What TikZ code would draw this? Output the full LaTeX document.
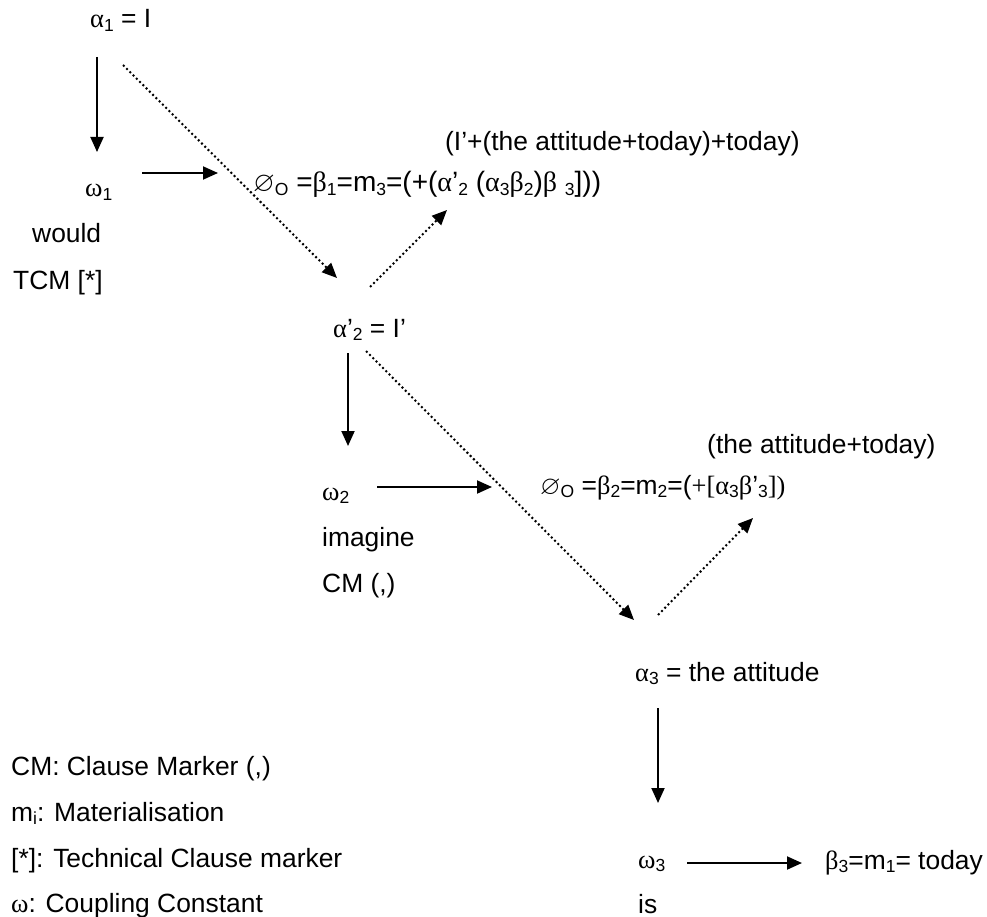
\documentclass[tikz,border=0pt]{standalone}
\usepackage{amssymb}
\usepackage{fontspec}
\setmainfont{Liberation Sans}
\newfontfamily\symbfont{Liberation Serif}
\usetikzlibrary{arrows.meta}

\newcommand{\gr}[1]{{\symbfont #1}}
\newcommand{\lo}[1]{\raisebox{-3.5pt}{\fontsize{17.5}{17.5}\selectfont #1}}

\begin{document}
\begin{tikzpicture}
  [x=1pt,y=-1pt,
   every node/.style={anchor=base west,inner sep=0pt,font=\fontsize{26.4}{31}\selectfont},
   solidarrow/.style={line width=1.9pt,-{Triangle[length=15pt,width=13pt]}},
   dotarrow/.style={line width=2pt,dash pattern=on 2pt off 2.6pt,-{Triangle[length=15pt,width=13pt]}}]

  \useasboundingbox (0,0) rectangle (987,917);

  % first level
  \node (a1) at (90,28) {\gr{α}\lo{1} = I};
  \node (w1) at (85,197) {\gr{ω}\lo{1}};
  \node (would) at (32,243) {would};
  \node (tcm) at (13,289) {TCM [*]};
  \node[font=\fontsize{28}{33}\selectfont] (f1) at (253,192) {$\varnothing$\lo{O} =\gr{β}\lo{1}=m\lo{3}=(+(\gr{α}’\lo{2} (\gr{α}\lo{3}\gr{β}\lo{2})\gr{β} \lo{3}]))};
  \node (t1) at (445,151) {(I’+(the attitude+today)+today)};

  % second level
  \node (a2) at (333,337) {\gr{α}’\lo{2} = I’};
  \node (w2) at (322,500) {\gr{ω}\lo{2}};
  \node (imagine) at (322,546) {imagine};
  \node (cm) at (322,592) {CM (,)};
  \node (f2) at (540,494) {$\varnothing$\lo{O} =\gr{β}\lo{2}=m\lo{2}=(\gr{+[α}\lo{3}\gr{β}’\lo{3}\gr{])}};
  \node (t2) at (707,453) {(the attitude+today)};

  % third level
  \node (a3) at (635,681) {\gr{α}\lo{3} = the attitude};
  \node (w3) at (638,868) {\gr{ω}\lo{3}};
  \node (is) at (638,913) {is};
  \node (f3) at (825,869) {\gr{β}\lo{3}=m\lo{1}= today};

  % legend
  \node (l1) at (11,775) {CM: Clause Marker (,)};
  \node (l2) at (11,821) {m\lo{i}: Materialisation};
  \node (l3) at (11,867) {[*]: Technical Clause marker};
  \node (l4) at (11,912) {\gr{ω}: Coupling Constant};

  % arrow ends
  \coordinate (v1s) at (97,57);   \coordinate (v1e) at (97,152);
  \coordinate (h1s) at (142,173); \coordinate (h1e) at (218,173);
  \coordinate (d1s) at (123,65);  \coordinate (d1e) at (337,278);
  \coordinate (d2s) at (370,287); \coordinate (d2e) at (447,210);
  \coordinate (v2s) at (348,353); \coordinate (v2e) at (348,446);
  \coordinate (h2s) at (377,487); \coordinate (h2e) at (492,487);
  \coordinate (d3s) at (366,351); \coordinate (d3e) at (634,620);
  \coordinate (d4s) at (658,615); \coordinate (d4e) at (753,518);
  \coordinate (v3s) at (658,708); \coordinate (v3e) at (658,803);
  \coordinate (h3s) at (687,863); \coordinate (h3e) at (802,863);

  \draw[solidarrow] (v1s) -- (v1e);
  \draw[solidarrow] (h1s) -- (h1e);
  \draw[dotarrow] (d1s) -- (d1e);
  \draw[dotarrow] (d2s) -- (d2e);
  \draw[solidarrow] (v2s) -- (v2e);
  \draw[solidarrow] (h2s) -- (h2e);
  \draw[dotarrow] (d3s) -- (d3e);
  \draw[dotarrow] (d4s) -- (d4e);
  \draw[solidarrow] (v3s) -- (v3e);
  \draw[solidarrow] (h3s) -- (h3e);

\end{tikzpicture}
\end{document}
